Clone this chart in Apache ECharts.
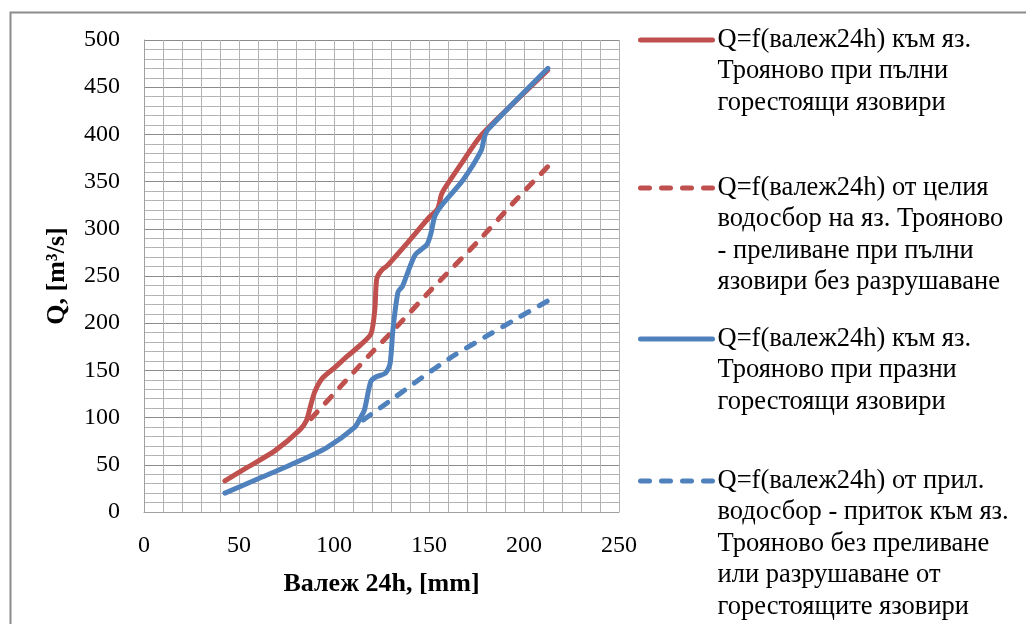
<!DOCTYPE html>
<html>
<head>
<meta charset="utf-8">
<script src="https://cdn.jsdelivr.net/npm/echarts@6/dist/echarts.min.js"></script>
<style>
  html, body { margin: 0; padding: 0; background: #fff; }
  #chart { width: 1026px; height: 624px; }
</style>
</head>
<body>
<div id="chart"></div>
<script>
// [валеж 24h mm, Q m3/s]
const fullRes = [[42.6,33],[55,48],[69,65],[82,87],[85.5,97],[88,115],[90,128],[94,142],[101,154],[107,165],[114,177],[119.5,189],[121.5,215],[122.5,247],[125,256],[128,261],[139,286],[150,312],[154.5,321],[156.5,336],[158,342],[167,369],[177,398],[195,434],[212.5,468]];
const wholeBasin = [[88,99],[103,132],[119,167],[131,192],[150,233],[175,285],[196,331],[212.6,366]];
const emptyRes = [[42.6,20],[61,36],[80.5,53],[96,68],[111,90],[113.7,99],[116,108],[119.3,138],[122,143],[127,147],[129.5,157],[131,193],[133.7,233],[136,239],[142.6,272],[148.8,283],[151,295],[153,313],[156.7,325],[168,352],[177.5,383],[179,396],[181,405],[212.6,470]];
const localBasin = [[115.4,97.5],[131,120],[146,142],[161,163],[180,186],[198,207],[213.7,225]];

const names = [
  'Q=f(валеж24h) към яз.\nТрояново при пълни\nгорестоящи язовири',
  'Q=f(валеж24h) от целия\nводосбор на яз. Трояново\n- преливане при пълни\nязовири без разрушаване',
  'Q=f(валеж24h) към яз.\nТрояново при празни\nгорестоящи язовири',
  'Q=f(валеж24h) от прил.\nводосбор - приток към яз.\nТрояново без преливане\nили разрушаване от\nгорестоящите язовири'
];
const iconY = [40, 188, 339, 481];

const RED = '#C0504D', BLUE = '#4F81BD';
const FONT = '"Liberation Serif", "Times New Roman", serif';
const LH = 31.5;
const LW = 5;

// one legend per entry so the icon sits on the first text line
function mkLegend(i) {
  let n = names[i].split('\n').length;
  let h = (2 * n - 1) * LH;
  return {
    data: [names[i]],
    left: 638,
    top: iconY[i] - h / 2,
    padding: 0,
    itemWidth: 72,
    itemHeight: 20,
    itemGap: 0,
    selectedMode: false,
    itemStyle: { opacity: 0 },
    lineStyle: { width: LW },
    formatter: function (nm) { return '\n'.repeat(n - 1) + nm; },
    textStyle: { fontFamily: FONT, fontSize: 26.5, color: '#000', lineHeight: LH }
  };
}

function line(name, data, color, dashed) {
  return {
    name: name, type: 'line', data: data,
    symbol: 'none', smooth: 0.25,
    lineStyle: { color: color, width: LW, type: dashed ? [9, 12] : 'solid', cap: 'round' },
    itemStyle: { color: color }
  };
}

const chart = echarts.init(document.getElementById('chart'));
chart.setOption({
  animation: false,
  backgroundColor: '#fff',
  graphic: [{
    type: 'rect', left: 8, top: 10,
    shape: { width: 1040, height: 640 },
    style: { fill: 'none', stroke: '#8c8c8c', lineWidth: 2 }
  }],
  legend: [0, 1, 2, 3].map(mkLegend),
  grid: { left: 144, top: 40, right: 407, bottom: 112, containLabel: false },
  xAxis: {
    type: 'value', min: 0, max: 250, interval: 50,
    name: 'Валеж 24h, [mm]', nameLocation: 'middle', nameGap: 59,
    nameTextStyle: { fontFamily: FONT, fontSize: 26, fontWeight: 'bold', color: '#000' },
    axisLine: { show: true, lineStyle: { color: '#a0a0a0', width: 1 } },
    axisTick: { show: false },
    axisLabel: { fontFamily: FONT, fontSize: 24, color: '#000', margin: 22 },
    splitLine: { show: true, lineStyle: { color: '#b3b3b3', width: 1 } },
    minorTick: { show: false, splitNumber: 5 },
    minorSplitLine: { show: true, lineStyle: { color: '#b3b3b3', width: 1 } }
  },
  yAxis: {
    type: 'value', min: 0, max: 500, interval: 50,
    name: 'Q, [m³/s]', nameLocation: 'middle', nameGap: 74, nameRotate: 90,
    nameTextStyle: { fontFamily: FONT, fontSize: 26, fontWeight: 'bold', color: '#000' },
    axisLine: { show: true, lineStyle: { color: '#a0a0a0', width: 1 } },
    axisTick: { show: false },
    axisLabel: { fontFamily: FONT, fontSize: 24, color: '#000', margin: 24 },
    splitLine: { show: true, lineStyle: { color: '#8c8c8c', width: 1 } },
    minorTick: { show: false, splitNumber: 5 },
    minorSplitLine: { show: true, lineStyle: { color: '#b3b3b3', width: 1 } }
  },
  series: [
    line(names[0], fullRes, RED, false),
    line(names[1], wholeBasin, RED, true),
    line(names[2], emptyRes, BLUE, false),
    line(names[3], localBasin, BLUE, true)
  ]
});
</script>
</body>
</html>
